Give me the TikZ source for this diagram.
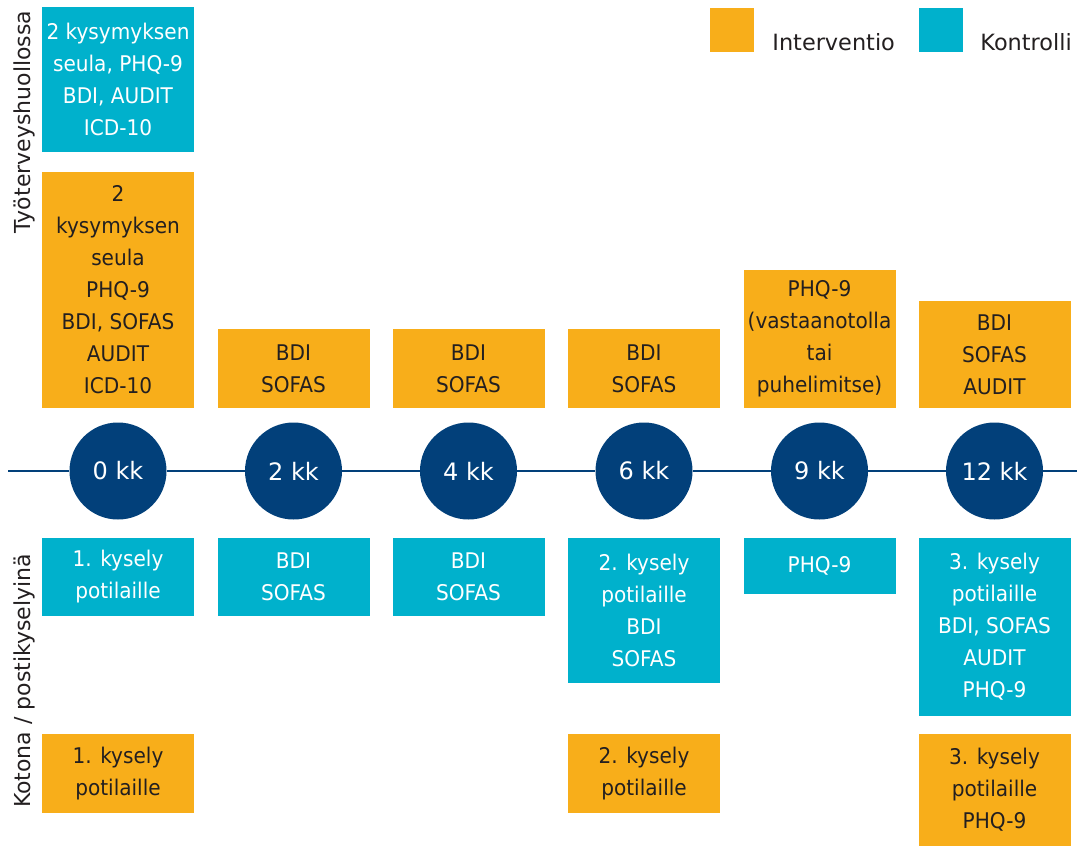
\documentclass[tikz,border=0pt]{standalone}
\usepackage{fontspec}
\setmainfont{DejaVu Sans}
\newfontfamily\boxfont{DejaVu Sans}[FakeStretch=0.93]
\definecolor{iorange}{HTML}{F8AE1A}
\definecolor{kblue}{HTML}{00B1CC}
\definecolor{navy}{HTML}{02407A}
\definecolor{ink}{HTML}{231F20}
\tikzset{
  box/.style={rectangle, minimum width=76pt, minimum height=#1, inner sep=0pt, align=center,
    font=\boxfont\fontsize{10.8}{16}\selectfont},
  ibox/.style={box=#1, fill=iorange, text=ink},
  kbox/.style={box=#1, fill=kblue, text=white},
  month/.style={circle, fill=navy, text=white, minimum size=48.5pt, inner sep=0pt,
    font=\fontsize{12}{14}\selectfont},
  side/.style={rotate=90, text=ink, font=\fontsize{11}{13}\selectfont},
  key/.style={rectangle, minimum size=22pt, inner sep=0pt},
  keytext/.style={anchor=base west, inner sep=0pt, text=ink, font=\fontsize{11.2}{13}\selectfont}
}
\begin{document}
\begin{tikzpicture}[x=0.5pt, y=-0.5pt]
\useasboundingbox (0,0) rectangle (1085,846);
\coordinate (start) at (8,471);
\coordinate (end) at (1077,471);
\node (c0)[month] at (118,471) {0 kk};
\node (c1)[month] at (293.5,471) {2 kk};
\node (c2)[month] at (468.5,471) {4 kk};
\node (c3)[month] at (644,471) {6 kk};
\node (c4)[month] at (819.5,471) {9 kk};
\node (c5)[month] at (994.5,471) {12 kk};
\draw[navy, line width=1.2pt] (start) -- (c0);
\draw[navy, line width=1.2pt] (c0) -- (c1);
\draw[navy, line width=1.2pt] (c1) -- (c2);
\draw[navy, line width=1.2pt] (c2) -- (c3);
\draw[navy, line width=1.2pt] (c3) -- (c4);
\draw[navy, line width=1.2pt] (c4) -- (c5);
\draw[navy, line width=1.2pt] (c5) -- (end);
\node (k0top)[kbox=72.5pt] at (118,79.5) {2 kysymyksen\\seula, PHQ-9\\BDI, AUDIT\\ICD-10};
\node (i0top)[ibox=118pt] at (118,290) {2\\kysymyksen\\seula\\PHQ-9\\BDI, SOFAS\\AUDIT\\ICD-10};
\node (i1top)[ibox=39.5pt] at (293.5,368.5) {BDI\\SOFAS};
\node (i2top)[ibox=39.5pt] at (468.5,368.5) {BDI\\SOFAS};
\node (i3top)[ibox=39.5pt] at (644,368.5) {BDI\\SOFAS};
\node (i4top)[ibox=69pt] at (819.5,339) {PHQ-9\\(vastaanotolla\\tai\\puhelimitse)};
\node (i5top)[ibox=53.5pt] at (994.5,354.5) {BDI\\SOFAS\\AUDIT};
\node (k0bot)[kbox=39pt] at (118,577) {1. kysely\\potilaille};
\node (k1bot)[kbox=39pt] at (293.5,577) {BDI\\SOFAS};
\node (k2bot)[kbox=39pt] at (468.5,577) {BDI\\SOFAS};
\node (k3bot)[kbox=72.5pt] at (644,610.5) {2. kysely\\potilaille\\BDI\\SOFAS};
\node (k4bot)[kbox=28pt] at (819.5,566) {PHQ-9};
\node (k5bot)[kbox=89pt] at (994.5,627) {3. kysely\\potilaille\\BDI, SOFAS\\AUDIT\\PHQ-9};
\node (i0bot)[ibox=39.5pt] at (118,773.5) {1. kysely\\potilaille};
\node (i3bot)[ibox=39.5pt] at (644,773.5) {2. kysely\\potilaille};
\node (i5bot)[ibox=56pt] at (994.5,790) {3. kysely\\potilaille\\PHQ-9};
\node (tth)[side] at (24,122) {Työterveyshuollossa};
\node (home)[side] at (24,681) {Kotona / postikyselyinä};
\node (ikey)[key, fill=iorange] at (732,30) {};
\node (kkey)[key, fill=kblue] at (941,30) {};
\node (itext)[keytext] at (772,50) {Interventio};
\node (ktext)[keytext] at (980,50) {Kontrolli};
\end{tikzpicture}
\end{document}
